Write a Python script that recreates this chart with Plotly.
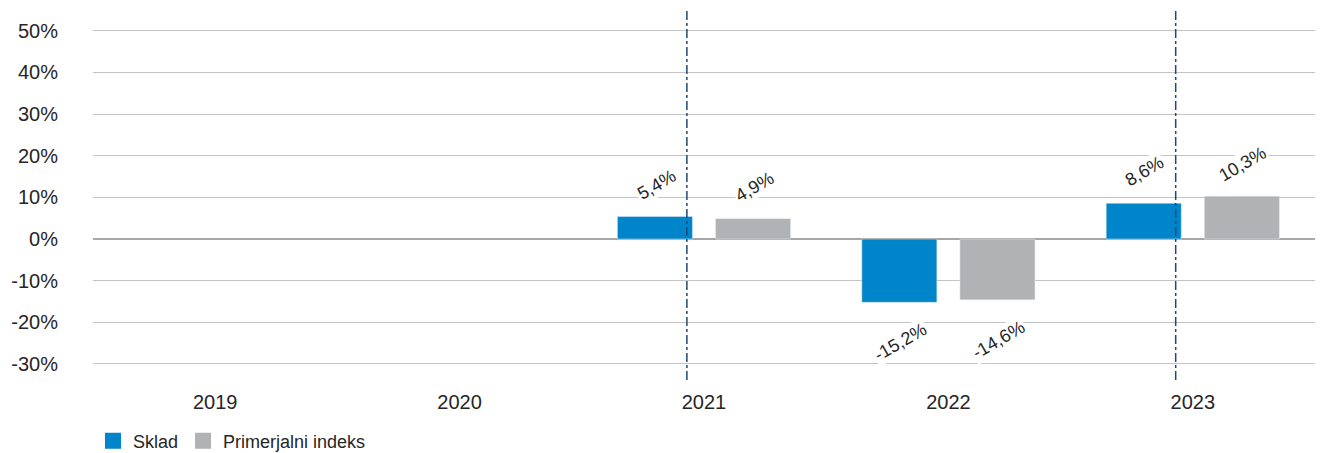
import plotly.graph_objects as go

years = ["2019", "2020", "2021", "2022", "2023"]
sklad = [None, None, 5.4, -15.2, 8.6]
indeks = [None, None, 4.9, -14.6, 10.3]
y_ticks = [-30, -20, -10, 0, 10, 20, 30, 40, 50]
y_tick_text = [f"{v}%" for v in y_ticks]
marker_years = ["2021", "2023"]

BLUE = "#0085CA"
GRAY = "#B1B2B4"
TXT = "#262626"
FONT = "Liberation Sans, Arial, sans-serif"

fig = go.Figure()
fig.add_trace(go.Bar(x=years, y=sklad, name="Sklad", marker_color=BLUE, showlegend=False))
fig.add_trace(go.Bar(x=years, y=indeks, name="Primerjalni indeks", marker_color=GRAY, showlegend=False))
# legend entries with larger square swatches
for name, col in (("Sklad", BLUE), ("Primerjalni indeks", GRAY)):
    fig.add_trace(go.Scatter(x=[None], y=[None], mode="markers", name=name,
                             marker=dict(symbol="square", size=17, color=col)))

def fmt(v):
    return f"{v:.1f}".replace(".", ",") + "%"

annotations = []
for series, xs in ((sklad, -48), (indeks, 50)):
    for i, (yr, v) in enumerate(zip(years, series)):
        if v is None:
            continue
        annotations.append(dict(
            x=i, y=v, xref="x", yref="y", text=fmt(v), showarrow=False,
            textangle=-30, xshift=xs, yshift=32 if v > 0 else -40,
            bgcolor="white", font=dict(family=FONT, size=18, color=TXT),
        ))

shapes = []
for yr in marker_years:
    idx = years.index(yr)
    shapes.append(dict(
        type="line", xref="x", yref="paper", x0=idx - 0.07, x1=idx - 0.07, y0=0, y1=1,
        line=dict(color="#1B4A78", width=1.5, dash="dashdot"), layer="above",
    ))

fig.update_layout(
    width=1325, height=453,
    margin=dict(l=93, r=10, t=10, b=73, autoexpand=False),
    plot_bgcolor="white", paper_bgcolor="white",
    barmode="group", bargap=0.197, bargroupgap=0.235,
    font=dict(family=FONT, size=20, color=TXT),
    showlegend=True,
    legend=dict(orientation="h", x=0.0, xanchor="left", y=-0.165, yanchor="middle",
                font=dict(family=FONT, size=18, color=TXT),
                tracegroupgap=0, itemclick=False),
    annotations=annotations, shapes=shapes,
)
fig.update_xaxes(type="category", categoryorder="array", categoryarray=years,
                 range=[-0.5, len(years) - 0.5], autorange=False,
                 showgrid=False, showline=False, zeroline=False, ticks="",
                 tickfont=dict(size=20, color=TXT), ticklabelstandoff=8, automargin=False)
fig.update_yaxes(range=[-33.85, 55], tickvals=y_ticks, ticktext=y_tick_text,
                 showgrid=True, gridcolor="#C4C4C4", gridwidth=1,
                 zeroline=True, zerolinecolor="#A6A6A6", zerolinewidth=2,
                 showline=False, ticks="", tickfont=dict(size=20, color=TXT),
                 ticklabelstandoff=34, automargin=False)

fig.write_html("out.html", config={"displayModeBar": False},
               post_script="document.body.style.margin='0';document.body.style.overflow='hidden';")
